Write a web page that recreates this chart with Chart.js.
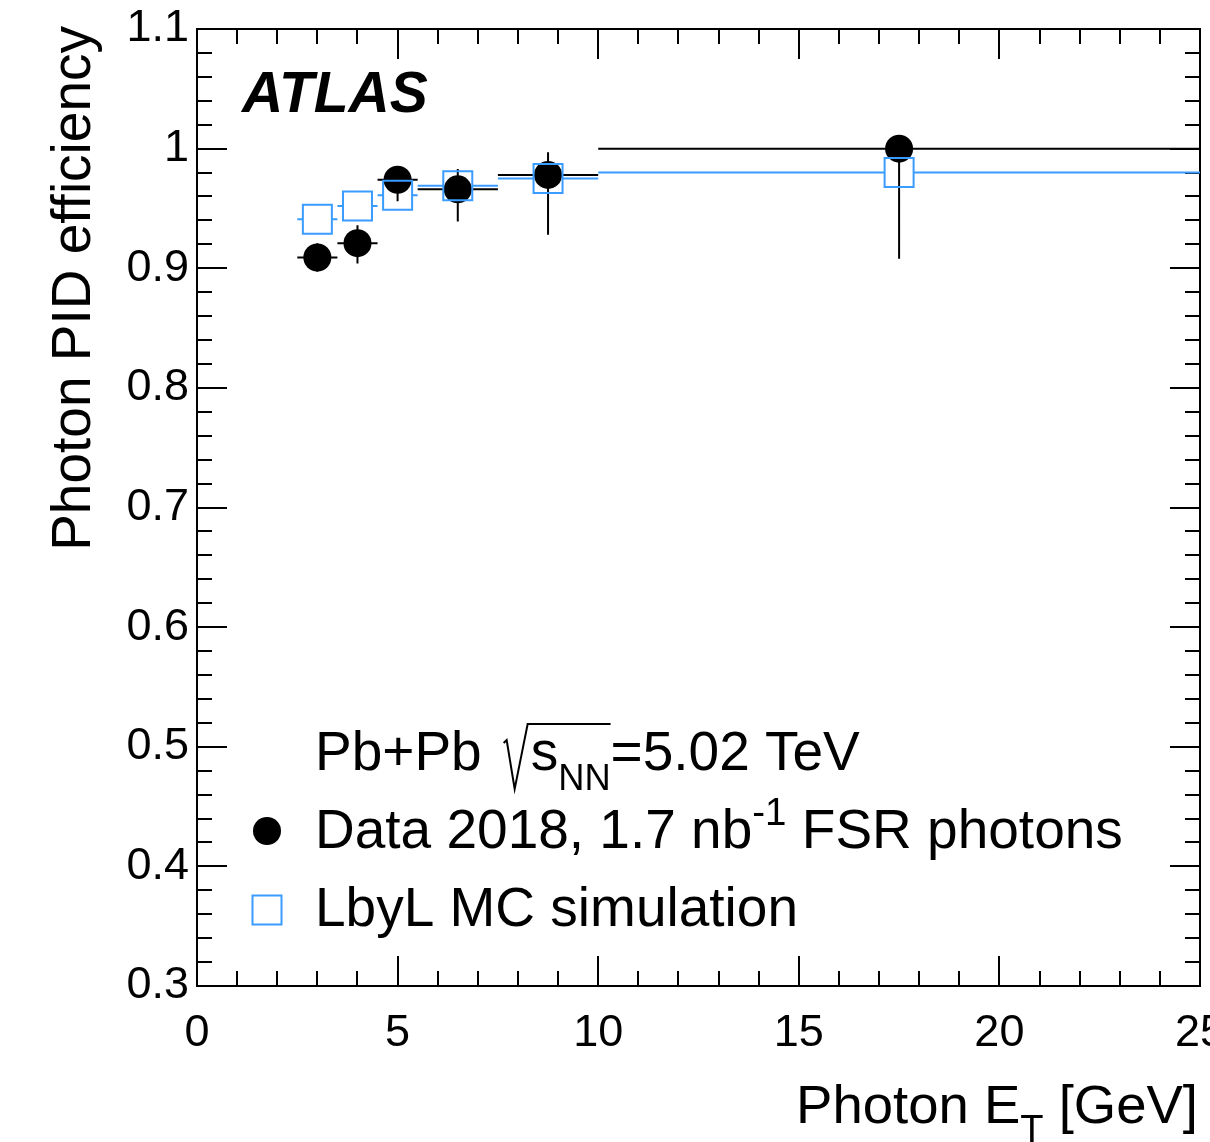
<!DOCTYPE html>
<html>
<head>
<meta charset="utf-8">
<script src="https://cdn.jsdelivr.net/npm/chart.js@4.4.1/dist/chart.umd.min.js"></script>
<style>
  html, body { margin: 0; padding: 0; background: #fff; overflow: hidden; }
  #wrap { width: 1210px; height: 1142px; }
</style>
</head>
<body>
<div id="wrap"><canvas id="effChart" width="1210" height="1142"></canvas></div>
<script>
// binning in photon ET [GeV]
const binCenters = [3, 4, 5, 6.5, 8.75, 17.5];
const binLow = [2.5, 3.5, 4.5, 5.5, 7.5, 10];
const binHigh = [3.5, 4.5, 5.5, 7.5, 10, 25];

// Data 2018 FSR photons
const dataEff = [0.909, 0.921, 0.974, 0.966, 0.978, 1.0];
const dataErrUp = [0.012, 0.015, 0.010, 0.017, 0.019, 0.0];
const dataErrDown = [0.012, 0.017, 0.018, 0.027, 0.050, 0.092];

// LbyL MC simulation
const mcEff = [0.941, 0.952, 0.961, 0.969, 0.975, 0.980];

const xTicks = [0, 5, 10, 15, 20, 25];
const xTickLabels = ['0', '5', '10', '15', '20', '25'];
const yTicks = [0.3, 0.4, 0.5, 0.6, 0.7, 0.8, 0.9, 1.0, 1.1];
const yTickLabels = ['0.3', '0.4', '0.5', '0.6', '0.7', '0.8', '0.9', '1', '1.1'];

const FONT = '"Liberation Sans", Arial, Helvetica, sans-serif';
const MC_BLUE = '#3a9cff';
const SQ_HALF = 14.5;
const FRAME_RIGHT = 1200;

// draws a run of text pieces, each with its own size and vertical shift
function richText(ctx, x, y, parts, size, align) {
    let total = 0;
    parts.forEach(p => {
        ctx.font = (p.font || '') + ' ' + (size * (p.scale || 1)).toFixed(1) + 'px ' + FONT;
        p.w = ctx.measureText(p.t).width;
        total += p.w;
    });
    let cx = align === 'right' ? x - total : x;
    ctx.textAlign = 'left';
    ctx.textBaseline = 'alphabetic';
    parts.forEach(p => {
        ctx.font = (p.font || '') + ' ' + (size * (p.scale || 1)).toFixed(1) + 'px ' + FONT;
        ctx.fillText(p.t, cx, y + (p.dy || 0) * size);
        cx += p.w;
    });
    return cx;
}

const rootDecor = {
    id: 'rootDecor',
    afterLayout(chart) {
        // the last tick label is allowed to run off the canvas, like in ROOT
        const a = chart.chartArea;
        const x = chart.scales.x;
        a.right = FRAME_RIGHT;
        a.width = a.right - a.left;
        x.right = FRAME_RIGHT;
        x.width = x.right - x.left;
        x.configure();
    },
    beforeDatasetsDraw(chart) {
        const {ctx, chartArea: a, scales: {x, y}} = chart;
        ctx.save();
        ctx.strokeStyle = '#000';
        ctx.lineWidth = 2;
        ctx.strokeRect(a.left, a.top, a.right - a.left, a.bottom - a.top);

        // x ticks, inside on bottom and top
        ctx.beginPath();
        for (let v = 0; v <= 25; v += 1) {
            const px = Math.round(x.getPixelForValue(v));
            const len = v % 5 === 0 ? 30 : 15;
            ctx.moveTo(px, a.bottom); ctx.lineTo(px, a.bottom - len);
            ctx.moveTo(px, a.top); ctx.lineTo(px, a.top + len);
        }
        // y ticks, inside on left and right
        for (let i = 0; i <= 40; i++) {
            const v = 0.3 + i * 0.02;
            const py = Math.round(y.getPixelForValue(v));
            const len = i % 5 === 0 ? 30 : 15;
            ctx.moveTo(a.left, py); ctx.lineTo(a.left + len, py);
            ctx.moveTo(a.right, py); ctx.lineTo(a.right - len, py);
        }
        ctx.stroke();

        // data error bars
        ctx.lineWidth = 2;
        ctx.strokeStyle = '#000';
        ctx.beginPath();
        binCenters.forEach((c, i) => {
            const px = x.getPixelForValue(c);
            const py = y.getPixelForValue(dataEff[i]);
            ctx.moveTo(x.getPixelForValue(binLow[i]), py);
            ctx.lineTo(x.getPixelForValue(binHigh[i]), py);
            ctx.moveTo(px, y.getPixelForValue(dataEff[i] + dataErrUp[i]));
            ctx.lineTo(px, y.getPixelForValue(dataEff[i] - dataErrDown[i]));
        });
        ctx.stroke();

        // MC bin widths, kept outside the open square
        ctx.strokeStyle = MC_BLUE;
        ctx.beginPath();
        binCenters.forEach((c, i) => {
            const px = x.getPixelForValue(c);
            const py = y.getPixelForValue(mcEff[i]);
            const lo = x.getPixelForValue(binLow[i]);
            const hi = x.getPixelForValue(binHigh[i]);
            if (px - SQ_HALF > lo) { ctx.moveTo(lo, py); ctx.lineTo(px - SQ_HALF, py); }
            if (px + SQ_HALF < hi) { ctx.moveTo(px + SQ_HALF, py); ctx.lineTo(hi, py); }
        });
        ctx.stroke();
        ctx.restore();
    },
    afterDraw(chart) {
        const {ctx} = chart;
        ctx.save();
        ctx.fillStyle = '#000';

        // ATLAS label
        richText(ctx, 242, 112, [{t: 'ATLAS', font: 'italic bold'}], 57, 'left');

        // Pb+Pb sqrt(s_NN)
        const cx = richText(ctx, 315, 770, [{t: 'Pb+Pb'}], 55, 'left');
        const rx = cx + 22;
        const sEnd = richText(ctx, rx + 27, 770, [{t: 's'}, {t: 'NN', scale: 0.66, dy: 0.36}], 55, 'left');
        richText(ctx, sEnd, 770, [{t: '=5.02 TeV'}], 55, 'left');
        ctx.strokeStyle = '#000';
        ctx.lineWidth = 2;
        ctx.beginPath();
        ctx.moveTo(rx, 743);
        ctx.lineTo(rx + 3, 740);
        ctx.lineTo(rx + 11, 789);
        ctx.lineTo(rx + 24, 724);
        ctx.lineTo(sEnd, 724);
        ctx.stroke();

        // legend
        ctx.beginPath();
        ctx.arc(267, 831, 14, 0, Math.PI * 2);
        ctx.fill();
        richText(ctx, 315, 848, [{t: 'Data 2018, 1.7 nb'}, {t: '-1', scale: 0.7, dy: -0.42}, {t: ' FSR photons'}], 55, 'left');
        ctx.strokeStyle = MC_BLUE;
        ctx.lineWidth = 2;
        ctx.strokeRect(267 - SQ_HALF, 910 - SQ_HALF, 2 * SQ_HALF, 2 * SQ_HALF);
        richText(ctx, 315, 926, [{t: 'LbyL MC simulation'}], 55, 'left');

        // axis titles
        richText(ctx, 1198, 1123, [{t: 'Photon E'}, {t: 'T', scale: 0.7, dy: 0.35}, {t: ' [GeV]'}], 54.5, 'right');
        ctx.translate(90, 26);
        ctx.rotate(-Math.PI / 2);
        richText(ctx, 0, 0, [{t: 'Photon PID efficiency'}], 55, 'right');
        ctx.restore();
    }
};

const ctx = document.getElementById('effChart').getContext('2d');

const effChart = new Chart(ctx, {
    type: 'scatter',
    data: {
        datasets: [{
            label: 'LbyL MC simulation',
            data: binCenters.map((c, i) => ({x: c, y: mcEff[i]})),
            pointStyle: 'rect',
            pointRadius: SQ_HALF * Math.SQRT2,
            borderColor: MC_BLUE,
            backgroundColor: 'rgba(0,0,0,0)',
            borderWidth: 2,
            order: 0
        }, {
            label: 'Data 2018, 1.7 nb-1 FSR photons',
            data: binCenters.map((c, i) => ({x: c, y: dataEff[i]})),
            pointStyle: 'circle',
            pointRadius: 14,
            borderWidth: 0,
            backgroundColor: '#000',
            borderColor: '#000',
            order: 1
        }]
    },
    options: {
        responsive: false,
        animation: false,
        events: [],
        layout: { padding: { top: 29, right: 10, left: 0, bottom: 0 } },
        plugins: { legend: { display: false }, tooltip: { enabled: false } },
        scales: {
            x: {
                type: 'linear',
                min: 0,
                max: 25,
                grid: { display: false, drawTicks: false },
                border: { display: false },
                afterBuildTicks: s => { s.ticks = xTicks.map(v => ({value: v})); },
                afterFit: s => { s.height = 156; },
                ticks: {
                    color: '#000',
                    padding: 21,
                    maxRotation: 0,
                    autoSkip: false,
                    font: { family: FONT, size: 45 },
                    callback: (v, i) => xTickLabels[i]
                }
            },
            y: {
                type: 'linear',
                min: 0.3,
                max: 1.1,
                grid: { display: false, drawTicks: false },
                border: { display: false },
                afterBuildTicks: s => { s.ticks = yTicks.map(v => ({value: v})); },
                afterFit: s => { s.width = 197; s.paddingTop = 0; s.paddingBottom = 0; },
                ticks: {
                    color: '#000',
                    padding: 8,
                    autoSkip: false,
                    font: { family: FONT, size: 45 },
                    callback: (v, i) => yTickLabels[i]
                }
            }
        }
    },
    plugins: [rootDecor]
});
</script>
</body>
</html>
